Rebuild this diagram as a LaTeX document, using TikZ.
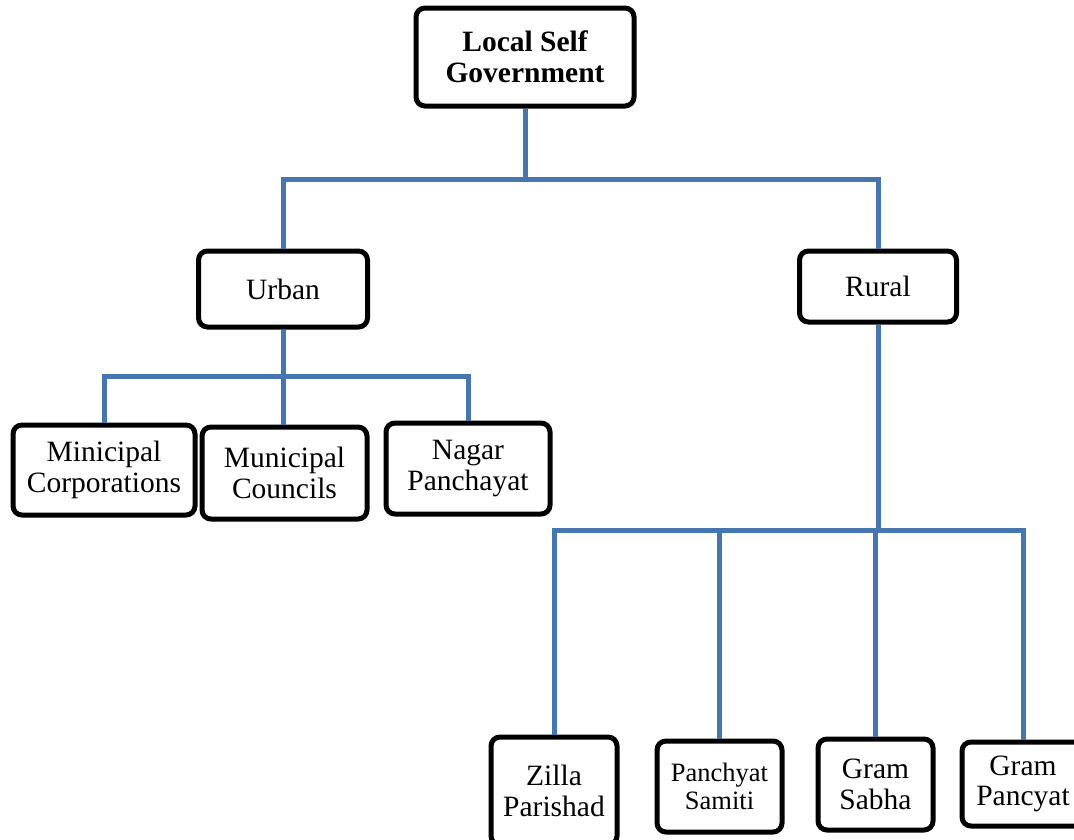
\documentclass[tikz,border=0pt]{standalone}
\usepackage{fontspec}
\setmainfont{Liberation Serif}
\definecolor{linkblue}{RGB}{70,118,176}

\begin{document}
\begin{tikzpicture}[x=1pt,y=-1pt,
	box/.style={draw=black,line width=5pt,rounded corners=9pt,fill=white,
		align=center,inner sep=0pt,font=\fontsize{29.5}{30.5}\selectfont},
	link/.style={draw=linkblue,line width=5pt}]
				\clip (0,0) rectangle (1074,839);
				
				\node[box,minimum width=218,minimum height=98,font=\bfseries\fontsize{29.5}{31}\selectfont] (lsg) at (525,57) {Local Self\\Government};
				
				\node[box,minimum width=169,minimum height=76] (urban) at (283,289) {Urban};
				\node[box,minimum width=157,minimum height=71] (rural) at (878,286.5) {Rural};
				
				\node[box,minimum width=182,minimum height=90] (mcorp) at (104,470) {Minicipal\\Corporations};
				\node[box,minimum width=165,minimum height=92] (mcoun) at (284.5,473) {Municipal\\Councils};
				\node[box,minimum width=164,minimum height=91] (nagar) at (468,468.5) {Nagar\\Panchayat};
				
				\node[box,minimum width=126,minimum height=108] (zilla) at (554,791) {Zilla\\Parishad};
				\node[box,minimum width=125,minimum height=91,font=\fontsize{26.5}{28}\selectfont] (samiti) at (719.5,786.5) {Panchyat\\Samiti};
				\node[box,minimum width=115,minimum height=91] (sabha) at (875.5,784.5) {Gram\\Sabha};
				\node[box,minimum width=122,minimum height=84] (pancyat) at (1023,784) {Gram\\Pancyat};
				
				\coordinate (bus1) at (525,179);
				\coordinate (bus2) at (283,376);
				\coordinate (bus3) at (878,530);
				
				\draw[link] (lsg.south) -- (bus1);
				\draw[link] (urban.north) |- (bus1) -| (rural.north);
				
				\draw[link] (urban.south) -- (bus2);
				\draw[link] (mcorp.north) |- (bus2) -| (nagar.north);
				\draw[link] (bus2) -- (bus2 |- mcoun.north);
				
				\draw[link] (rural.south) -- (bus3);
				\draw[link] (zilla.north) |- (bus3) -| (pancyat.north);
				\draw[link] (samiti.north) -- (samiti.north |- bus3);
				\draw[link] (sabha.north) -- (sabha.north |- bus3);
\end{tikzpicture}
\end{document}
